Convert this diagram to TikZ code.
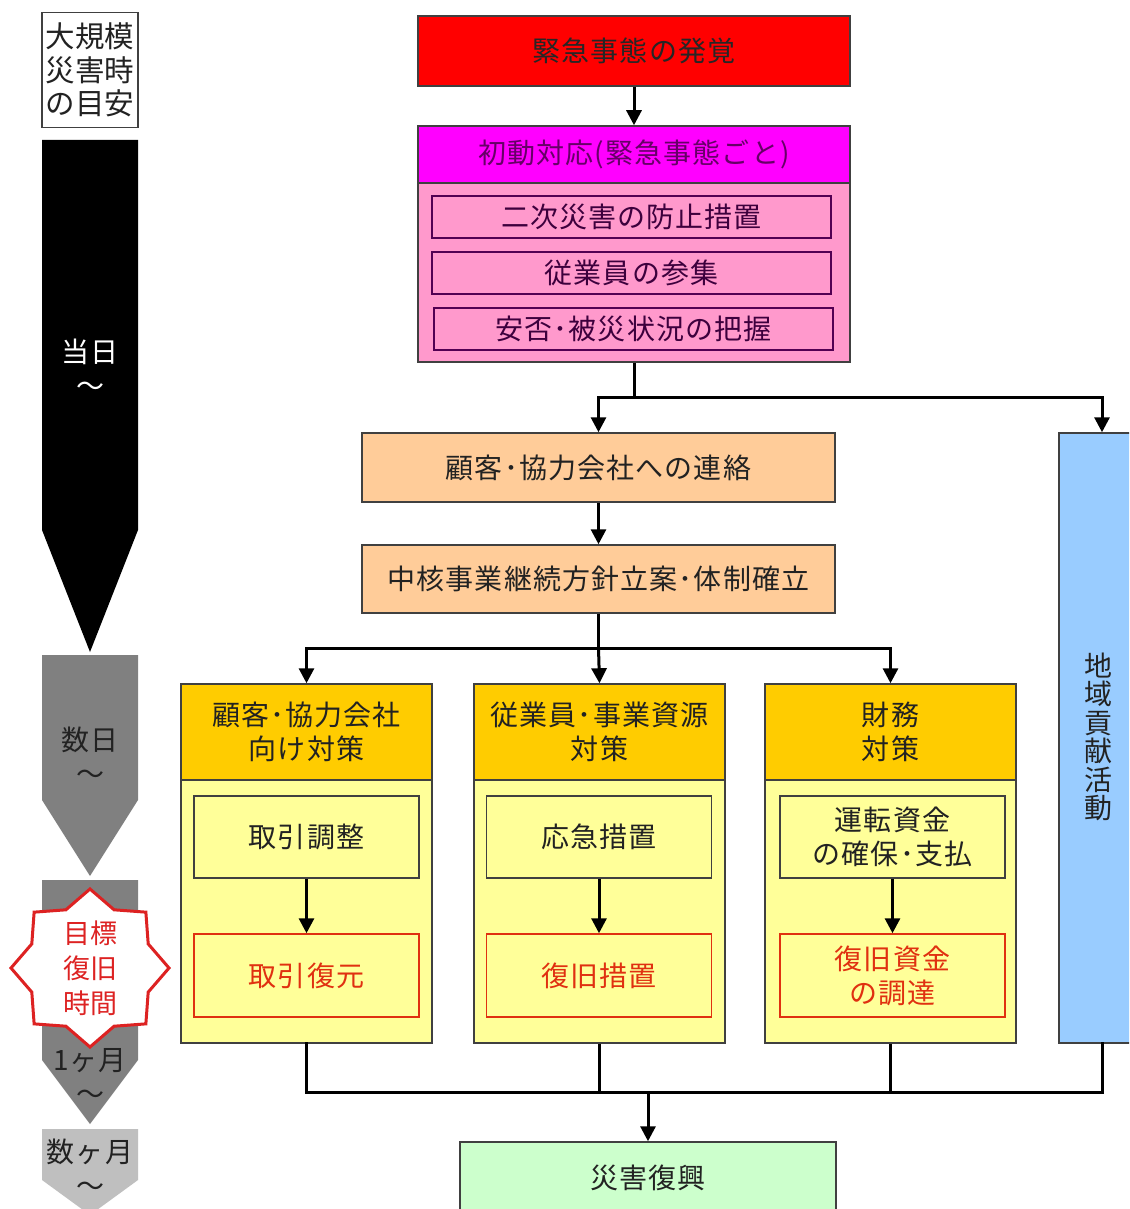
\documentclass[tikz,border=0pt]{standalone}
\usepackage{fontspec}
\setmainfont{Noto Sans CJK JP}
\usetikzlibrary{arrows.meta}
\definecolor{cred}{HTML}{FF0000}
\definecolor{cmag}{HTML}{FF00FF}
\definecolor{cpink}{HTML}{FF99CC}
\definecolor{corange}{HTML}{FFCC99}
\definecolor{cgold}{HTML}{FFCC00}
\definecolor{cyel}{HTML}{FFFF99}
\definecolor{cblue}{HTML}{99CCFF}
\definecolor{cgreen}{HTML}{CCFFCC}
\definecolor{cgrayA}{HTML}{808080}
\definecolor{cgrayB}{HTML}{BFBFBF}
\definecolor{cstar}{HTML}{DD2222}
\definecolor{cdred}{HTML}{E03010}
\definecolor{cpurp}{HTML}{660066}
\definecolor{cdtext}{HTML}{222222}
\newcommand\fsa{\fontsize{28}{34}\selectfont\addfontfeature{LetterSpace=4}}
\newcommand\fsv{\fontsize{28}{28.5}\selectfont}
\begin{document}
\begin{tikzpicture}[x=1pt,y=-1pt,
  box/.style={draw=black!75, line width=1.5pt, inner sep=0pt, align=center, font=\fsa, text=cdtext},
  redbox/.style={box, draw=cdred, text=cdred},
  arr/.style={line width=3pt, -{Triangle[length=15pt,width=15pt]}},
  ln/.style={line width=3pt},
  lbl/.style={align=center, font=\fsa, inner sep=0pt}
]
\useasboundingbox (0,0) rectangle (1129,1209);
\fill[white] (0,0) rectangle (1129,1209);
\clip (0,0) rectangle (1129,1209);

% ---------- left time scale ----------
\node[box, line width=1.2pt, minimum width=96pt, minimum height=115pt, font=\fontsize{29.5}{33.5}\selectfont] (guide) at (90,70) {大規模\\災害時\\の目安};

\fill[black] (42,140) -- (138,140) -- (138,530) -- (90,652) -- (42,530) -- cycle;
\node[lbl, text=white] (day0) at (90,368) {当日\\～};

\fill[cgrayA] (42,655) -- (138,655) -- (138,800) -- (90,876) -- (42,800) -- cycle;
\node[lbl, text=cdtext] (days) at (90,756) {数日\\～};

\fill[cgrayA] (42,880) -- (138,880) -- (138,1060) -- (90,1124) -- (42,1060) -- cycle;
\node[lbl, text=cdtext] (month) at (90,1076) {1ヶ月\\～};

\fill[cgrayB] (42,1129) -- (138,1129) -- (138,1180) -- (90,1215) -- (42,1180) -- cycle;
\node[lbl, text=cdtext] (months) at (90,1168) {数ヶ月\\～};

\begin{scope}[shift={(90,968)}]
\draw[cstar, line width=3pt, fill=white, line join=miter] (0:79)
  \foreach \i in {1,...,15} { -- ({\i*22.5}:{ifthenelse(mod(\i,2)==0,79,63)}) } -- cycle;
\end{scope}
\node[lbl, text=cstar, font=\fontsize{27}{35}\selectfont] (target) at (90,968) {目標\\復旧\\時間};

% ---------- main flow ----------
\node[box, fill=cred, minimum width=432pt, minimum height=70pt, text=black!85] (detect) at (634,51) {緊急事態の発覚};

\node[box, fill=cpink, minimum width=432pt, minimum height=179pt] (initbody) at (634,272.5) {};
\node[box, fill=cmag, minimum width=432pt, minimum height=57pt, text=cpurp] (init) at (634,154.5) {初動対応(緊急事態ごと)};
\node[box, fill=cpink, draw=cpurp!80!black, minimum width=399pt, minimum height=42pt, text=cpurp!60!black] (i1) at (631.5,217) {二次災害の防止措置};
\node[box, fill=cpink, draw=cpurp!80!black, minimum width=399pt, minimum height=42pt, text=cpurp!60!black] (i2) at (631.5,273) {従業員の参集};
\node[box, fill=cpink, draw=cpurp!80!black, minimum width=399pt, minimum height=42pt, text=cpurp!60!black] (i3) at (633.5,329) {安否･被災状況の把握};

\node[box, fill=corange, minimum width=473pt, minimum height=69pt] (contact) at (598.5,467.5) {顧客･協力会社への連絡};
\node[box, fill=corange, minimum width=473pt, minimum height=68pt] (policy) at (598.5,579) {中核事業継続方針立案･体制確立};

\node[box, fill=cblue, minimum width=86pt, minimum height=610pt] (region) at (1102,738) {};
\node[lbl, font=\fsv, text=cdtext] (regiontext) at (1098,737) {地\\域\\貢\\献\\活\\動};

% columns
\foreach \n/\cx/\icx/\ha/\ta/\tb in {
  c1/306.5/306.5/{顧客･協力会社\\向け対策}/{取引調整}/{取引復元},
  c2/599.5/599/{従業員･事業資源\\対策}/{応急措置}/{復旧措置},
  c3/890.5/892.5/{財務\\対策}/{運転資金\\の確保･支払}/{復旧資金\\の調達}} {
  \node[box, fill=cyel, minimum width=251pt, minimum height=263pt] (\n body) at (\cx,911.5) {};
  \node[box, fill=cgold, minimum width=251pt, minimum height=96pt] (\n head) at (\cx,732) {\ha};
  \node[box, fill=cyel, minimum width=225pt, minimum height=82pt] (\n top) at (\icx,837) {\ta};
  \node[redbox, fill=cyel, minimum width=225pt, minimum height=83pt] (\n bot) at (\icx,975.5) {\tb};
  \draw[arr] (\n top) -- (\n bot);
}

\node[box, fill=cgreen, minimum width=376pt, minimum height=72pt] (recovery) at (648,1178) {災害復興};

% connectors
\draw[arr] (detect) -- (init);
\coordinate (ja) at (634,397);
\draw[ln] (initbody.south) -- (ja);
\draw[arr] (ja) -| (contact.north);
\draw[arr] (ja) -| (region.north);
\draw[arr] (contact) -- (policy);

\coordinate (jb) at (598.5,648);
\draw[ln] (policy.south) -- (jb);
\draw[arr] (jb) -| (c1head.north);
\draw[arr] (jb) -- (c2head.north);
\draw[arr] (jb) -| (c3head.north);

\coordinate (jc) at (648,1092);
\draw[ln, line cap=rect] (c1body.south) |- (jc);
\draw[ln] (c2body.south) -- (c2body.south |- jc);
\draw[ln] (c3body.south) |- (jc);
\draw[ln, line cap=rect] (region.south) |- (jc);
\draw[arr] (jc) -- (recovery.north);
\end{tikzpicture}
\end{document}
